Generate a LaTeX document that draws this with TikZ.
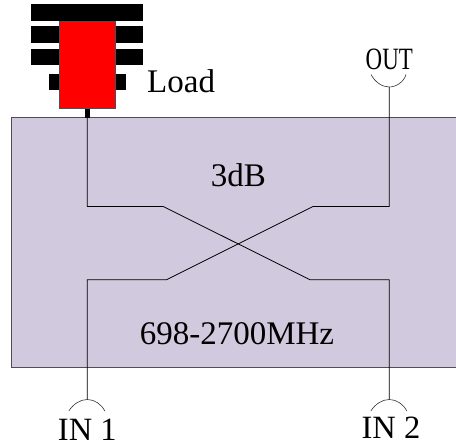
\documentclass[tikz,border=0pt]{standalone}
\usepackage{fontspec}
\setmainfont{Liberation Serif}
\definecolor{boxfill}{RGB}{209,201,222}
\definecolor{boxline}{RGB}{80,75,85}
\tikzset{
  labeltext/.style={inner sep=0pt,font=\fontsize{#1}{#1}\selectfont},
  finbar/.style={fill=black,draw=none},
  wire/.style={draw=black,line width=0.8pt},
  portarc/.style={draw=black!80,line width=0.6pt},
}
\begin{document}
\begin{tikzpicture}[x=1pt,y=-1pt]
  \useasboundingbox (0,0) rectangle (456,447);
  % body of the combiner
  \draw[fill=boxfill,draw=boxline,line width=1pt] (11.3,117.7) rectangle (457,367.7);
  % heat sink and load
  \foreach \y in {4.3,26.3,48.5}{
    \path[finbar] (31.3,\y) rectangle (142.7,\y+16.4);
  }
  \path[finbar] (48.7,73.7) rectangle (126.3,90);
  \path[finbar] (84.7,108) rectangle (90,118);
  \draw[fill=red,draw=boxline,line width=0.6pt] (59,21) rectangle (115.7,108.7);
  % ports
  \coordinate (load) at (87.3,118);
  \coordinate (out) at (389.3,87);
  \coordinate (in1) at (87.3,399.5);
  \coordinate (in2) at (389.3,399.5);
  \coordinate (load-a) at (87.3,206.4);
  \coordinate (load-b) at (163,206.4);
  \coordinate (in2-a) at (389.3,279.7);
  \coordinate (in2-b) at (310,279.7);
  \coordinate (out-a) at (389.3,206.4);
  \coordinate (out-b) at (313.3,206.4);
  \coordinate (in1-a) at (87.3,279.7);
  \coordinate (in1-b) at (166.7,279.7);
  \path[wire] (load) -- (load-a) -- (load-b) -- (in2-b) -- (in2-a) -- (in2);
  \path[wire] (out) -- (out-a) -- (out-b) -- (in1-b) -- (in1-a) -- (in1);
  % port arcs
  \path[portarc] (371,74.5) .. controls (375,82) and (382,87) .. (out) .. controls (396,87) and (404,82) .. (406,74.5);
  \foreach \p/\x in {in1/87.3,in2/389.3}{
    \path[portarc] (\x-18.5,411) .. controls (\x-14,404) and (\x-7,399.5) .. (\p) .. controls (\x+7,399.5) and (\x+14,404) .. (\x+17.5,411);
  }
  % labels
  \node[labeltext=33,anchor=base west] (loadtext) at (147,92.5) {Load};
  \node[labeltext=33,anchor=base] (db) at (238.5,186) {3dB};
  \node[labeltext=33,anchor=base] (band) at (237,344) {698-2700MHz};
  \node[labeltext=31,anchor=base,transform shape,xscale=.74] (outtext) at (389.3,70) {OUT};
  \node[labeltext=32.5,anchor=base] (intext1) at (87.3,440) {IN 1};
  \node[labeltext=32.5,anchor=base] (intext2) at (391,438) {IN 2};
\end{tikzpicture}
\end{document}
